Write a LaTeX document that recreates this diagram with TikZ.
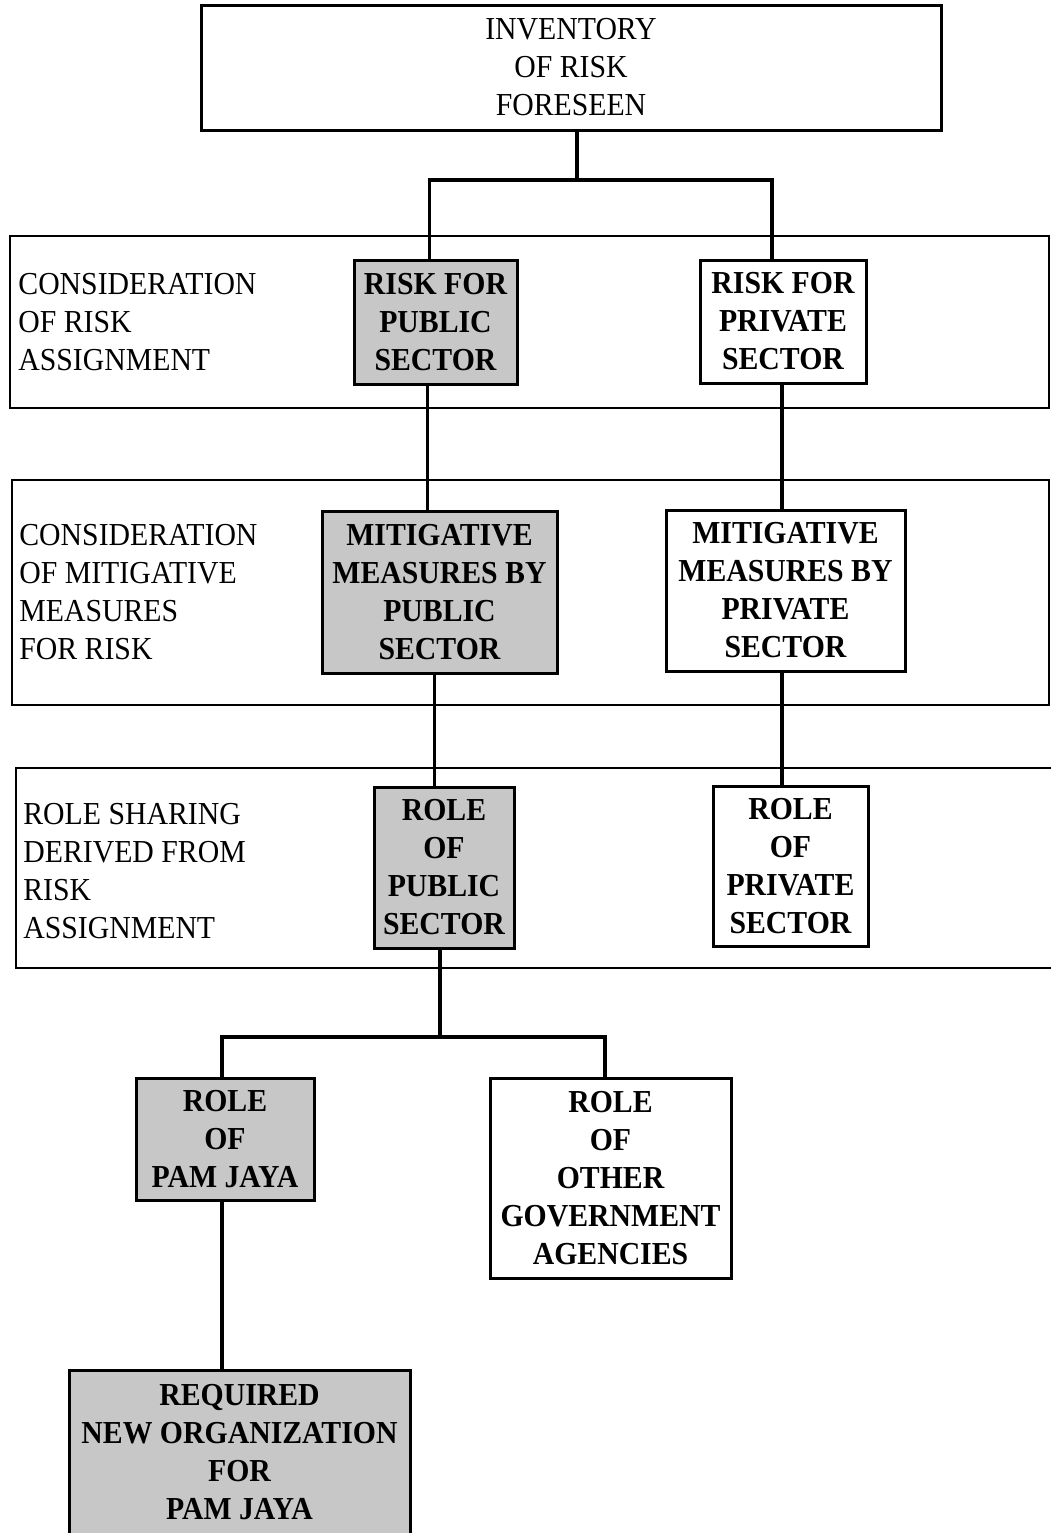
\documentclass[tikz,border=0pt]{standalone}
\usepackage{fontspec}
\setmainfont[FakeStretch=0.93]{Liberation Serif}
\begin{document}
\begin{tikzpicture}[x=0.5pt,y=-0.5pt,
  txt/.style={font=\fontsize{16}{19}\selectfont},
  box/.style={draw, line width=1.5pt, inner sep=0pt, align=center, font=\bfseries\fontsize{16}{19}\selectfont},
  pub/.style={box, fill=black!22},
  priv/.style={box, fill=white},
  topbox/.style={draw, line width=1.5pt, inner sep=0pt, align=center, txt},
  lab/.style={anchor=west, align=left, inner sep=0pt, txt},
  band/.style={line width=1.4pt},
  conn/.style={line width=1.8pt}]
\useasboundingbox (0,0) rectangle (1051,1533);
% bands
\draw[band] (10,236) rectangle (1049,408);
\draw[band] (12,480) rectangle (1049,705);
\draw[band] (1051,768) -- (16,768) -- (16,968) -- (1051,968);
% band labels
\node[lab] (lab1) at (18,322) {CONSIDERATION\\OF RISK\\ASSIGNMENT};
\node[lab] (lab2) at (19,592) {CONSIDERATION\\OF MITIGATIVE\\MEASURES\\FOR RISK};
\node[lab] (lab3) at (23,871) {ROLE SHARING\\DERIVED FROM\\RISK\\ASSIGNMENT};
% boxes
\node[topbox, minimum width=370pt, minimum height=62.5pt] (top) at (571,67.5) {INVENTORY\\OF RISK\\FORESEEN};
\node[pub, minimum width=81.5pt, minimum height=62pt] (riskpub) at (435.5,322) {RISK FOR\\PUBLIC\\SECTOR};
\node[priv, minimum width=83pt, minimum height=61.5pt] (riskpriv) at (783,321.5) {RISK FOR\\PRIVATE\\SECTOR};
\node[pub, minimum width=117.5pt, minimum height=81pt] (mitpub) at (439.5,592) {MITIGATIVE\\MEASURES BY\\PUBLIC\\SECTOR};
\node[priv, minimum width=119.5pt, minimum height=80.5pt] (mitpriv) at (785.5,590.5) {MITIGATIVE\\MEASURES BY\\PRIVATE\\SECTOR};
\node[pub, minimum width=70pt, minimum height=80.5pt] (rolepub) at (444,867.5) {ROLE\\OF\\PUBLIC\\SECTOR};
\node[priv, minimum width=77.5pt, minimum height=80pt] (rolepriv) at (790.5,866) {ROLE\\OF\\PRIVATE\\SECTOR};
\node[pub, minimum width=89pt, minimum height=61pt] (pam) at (225,1139) {ROLE\\OF\\PAM JAYA};
\node[priv, minimum width=120.5pt, minimum height=100pt] (other) at (610.5,1178) {ROLE\\OF\\OTHER\\GOVERNMENT\\AGENCIES};
\node[pub, minimum width=170.5pt, minimum height=82.5pt] (req) at (239.5,1452.5) {REQUIRED\\NEW ORGANIZATION\\FOR\\PAM JAYA};
% connectors
\coordinate (bar1) at (577,180);
\coordinate (bar2) at (440,1037);
\coordinate (c1) at ([xshift=-3pt]riskpub.north);
\coordinate (c2) at ([xshift=-5.5pt]riskpriv.north);
\coordinate (c3) at ([xshift=-4pt]riskpub.south);
\coordinate (c4) at ([xshift=-0.5pt]riskpriv.south);
\coordinate (c5) at ([xshift=-2.5pt]mitpub.south);
\coordinate (c6) at ([xshift=-1.5pt]pam.north);
\coordinate (c7) at ([xshift=-2.75pt]other.north);
\draw[conn] (top.south -| bar1) -- (bar1);
\draw[conn] (c1) |- (bar1) -| (c2);
\draw[conn] (c3) -- (c3 |- mitpub.north);
\draw[conn] (c4) -- (c4 |- mitpriv.north);
\draw[conn] (c5) -- (c5 |- rolepub.north);
\draw[conn] (mitpriv.south -| c4) -- (c4 |- rolepriv.north);
\draw[conn] (rolepub.south -| bar2) -- (bar2);
\draw[conn] (c6) |- (bar2) -| (c7);
\draw[conn] (pam.south -| c6) -- (c6 |- req.north);
\end{tikzpicture}
\end{document}
